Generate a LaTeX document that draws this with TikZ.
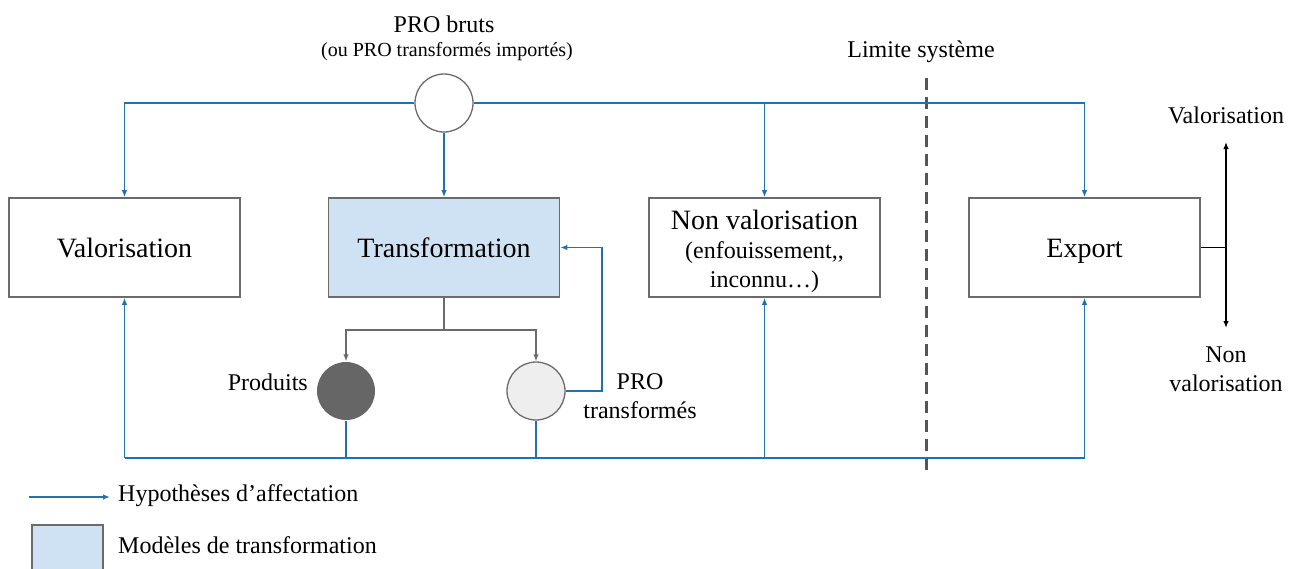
\documentclass[tikz,border=0pt]{standalone}
\usepackage{fontspec}
\setmainfont{Liberation Serif}
\usetikzlibrary{arrows.meta,calc}
\definecolor{hypblue}{RGB}{36,113,178}
\definecolor{modfill}{HTML}{CFE2F3}
\definecolor{boxgray}{HTML}{6B6B6B}
\definecolor{limgray}{HTML}{555555}
\definecolor{prodfill}{HTML}{666666}
\definecolor{protrfill}{HTML}{EEEEEE}
\begin{document}
\begin{tikzpicture}[x=1pt,y=-1pt,
  hyp/.style={draw=hypblue,line width=1.3pt,-{Latex[length=7pt,width=5.5pt]}},
  hypline/.style={draw=hypblue,line width=1.3pt},
  grayarrow/.style={draw=boxgray,line width=1.3pt,-{Latex[length=7pt,width=5.5pt]}},
  box/.style={draw=boxgray,line width=1.6pt,minimum width=231pt,minimum height=99pt,inner sep=0pt,font=\fontsize{28}{30}\selectfont},
  circ/.style={circle,minimum size=58pt,inner sep=0pt,line width=1.3pt},
  lab/.style={inner sep=0pt,font=\fontsize{24}{29}\selectfont},
  blackarrow/.style={draw=black,line width=1.3pt,{Latex[length=7pt,width=5.5pt]}-{Latex[length=7pt,width=5.5pt]}}
]
\useasboundingbox (0,0) rectangle (1293,568);

% system limit
\coordinate (limtop) at (926,78);
\coordinate (limbot) at (926,476);
\draw[draw=limgray,line width=3pt,dash pattern=on 12pt off 7pt] (limtop) -- (limbot);
\node[lab,anchor=base] (limlab) at (921,57) {Limite système};

% source
\node[circ,draw=boxgray,fill=white] (src) at (444,103) {};
\node[lab,anchor=base] (srclab) at (444,32) {PRO bruts};
\node[inner sep=0pt,anchor=base,font=\fontsize{20}{24}\selectfont] (srcsub) at (447,56) {(ou PRO transformés importés)};

% boxes
\node[box] (val) at (124.5,247.5) {Valorisation};
\node[box,fill=modfill] (trans) at (444,247.5) {Transformation};
\node[box,align=center] (nonval) at (764.5,247.5) {\rule{0pt}{27pt}Non valorisation\\[-1pt]{\fontsize{24}{29}\selectfont (enfouissement,{},}\\[-1pt]{\fontsize{24}{29}\selectfont inconnu…)}};
\node[box,text height=19pt,text depth=0pt] (export) at (1084.5,247.5) {Export};

% top distribution
\draw[hyp] (src.west) -| (val.north);
\draw[hyp] (src.south) -- (trans.north);
\draw[hyp] (src.east) -| (export.north);
\draw[hyp] (src.east -| nonval.north) -- (nonval.north);

% transformation outputs
\node[circ,fill=prodfill] (prod) at (346,391) {};
\node[circ,draw=boxgray,fill=protrfill] (protr) at (536,391) {};
\node[lab,anchor=base east] (prodlab) at (308,390) {Produits};
\node[lab,align=center] (protrlab) at (640,396) {PRO\\transformés};
\coordinate (split) at (444,330);
\draw[draw=boxgray,line width=1.3pt] (trans.south) -- (split);
\draw[grayarrow] (split) -| (prod.north);
\draw[grayarrow] (split) -| (protr.north);

% feedback loop
\coordinate (fb) at (602,391);
\draw[hyp] (protr.east) -- (fb) |- (trans.east);

% bottom collector
\coordinate (bot) at (0,458);
\draw[hypline] (val.south |- bot) -- (export.south |- bot);
\draw[hypline] (prod.south) -- (prod.south |- bot);
\draw[hypline] (protr.south) -- (protr.south |- bot);
\draw[hyp] (val.south |- bot) -- (val.south);
\draw[hyp] (nonval.south |- bot) -- (nonval.south);
\draw[hyp] (export.south |- bot) -- (export.south);

% export fate
\coordinate (ej) at (1226,247.5);
\coordinate (eu) at (1226,142);
\coordinate (ed) at (1226,328);
\draw[draw=black,line width=1.3pt] (export.east) -- (ej);
\draw[blackarrow] (eu) -- (ed);
\node[lab,anchor=base] (evlab) at (1226,123) {Valorisation};
\node[lab,align=center] (enlab) at (1226,369) {Non\\valorisation};

% legend
\coordinate (la) at (29,497);
\coordinate (lb) at (110,497);
\draw[hyp] (la) -- (lb);
\node[lab,anchor=west] (leg1) at (118,496) {Hypothèses d’affectation};
\node[draw=boxgray,fill=modfill,line width=1.6pt,minimum width=71pt,minimum height=50pt,inner sep=0pt] (legbox) at (67.5,550) {};
\node[lab,anchor=west] (leg2) at (118,545) {Modèles de transformation};
\end{tikzpicture}
\end{document}
